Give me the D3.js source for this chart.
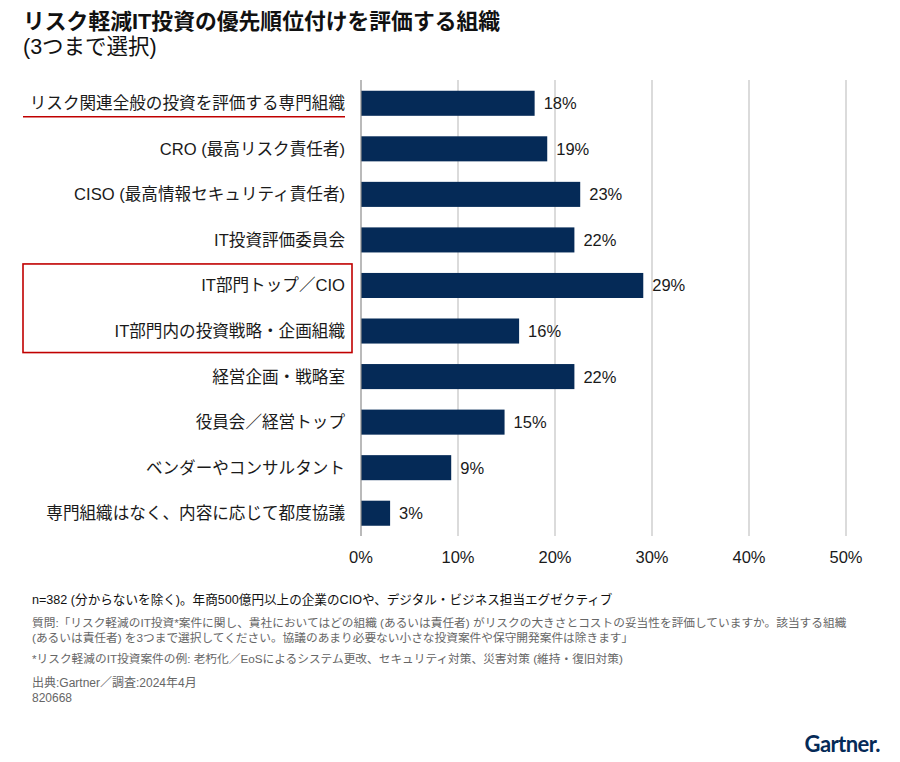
<!DOCTYPE html>
<html>
<head>
<meta charset="utf-8">
<script src="https://cdn.jsdelivr.net/npm/d3@7"></script>
<style>
  body { margin: 0; background: #fff; }
  svg { display: block; font-family: "Liberation Sans", Arial, "Noto Sans CJK JP", sans-serif; }
</style>
</head>
<body>
<div id="viz"></div>
<script>
// ── DATA ────────────────────────────────────────────────────────────────────
const categories = [
  "リスク関連全般の投資を評価する専門組織",
  "CRO (最高リスク責任者)",
  "CISO (最高情報セキュリティ責任者)",
  "IT投資評価委員会",
  "IT部門トップ／CIO",
  "IT部門内の投資戦略・企画組織",
  "経営企画・戦略室",
  "役員会／経営トップ",
  "ベンダーやコンサルタント",
  "専門組織はなく、内容に応じて都度協議"
];
const values = [17.9, 19.2, 22.6, 22.0, 29.1, 16.3, 22.0, 14.8, 9.3, 3.0];
const xTicks = [0, 10, 20, 30, 40, 50];

const titleLines = ["リスク軽減IT投資の優先順位付けを評価する組織", "(3つまで選択)"];
const noteMain = "n=382 (分からないを除く)。年商500億円以上の企業のCIOや、デジタル・ビジネス担当エグゼクティブ";
const noteLines = [
  "質問:「リスク軽減のIT投資*案件に関し、貴社においてはどの組織 (あるいは責任者) がリスクの大きさとコストの妥当性を評価していますか。該当する組織",
  "(あるいは責任者) を3つまで選択してください。協議のあまり必要ない小さな投資案件や保守開発案件は除きます」",
  "*リスク軽減のIT投資案件の例: 老朽化／EoSによるシステム更改、セキュリティ対策、災害対策 (維持・復旧対策)"
];
const sourceLines = ["出典:Gartner／調査:2024年4月", "820668"];

// ── SETTINGS ────────────────────────────────────────────────────────────────
const width = 900, height = 762;
const navy = "#052a57", red = "#c00000";

const svg = d3.select("#viz").append("svg")
    .attr("viewBox", [0, 0, width, height])
    .attr("width", width)
    .attr("height", height);

const x = d3.scaleLinear().domain([0, 50]).range([361, 846]);
const y = d3.scaleBand().domain(categories).range([80.5, 536])
    .paddingInner(0.45).paddingOuter(0.225);

// ── TITLE ───────────────────────────────────────────────────────────────────
svg.append("text")
    .attr("x", 23).attr("y", 29)
    .attr("font-size", 21.8).attr("font-weight", "bold").attr("fill", "#111")
    .text(titleLines[0]);
svg.append("text")
    .attr("x", 23).attr("y", 54)
    .attr("font-size", 21.5).attr("fill", "#111")
    .text(titleLines[1]);

// ── GRID ────────────────────────────────────────────────────────────────────
svg.append("g")
  .selectAll("line")
  .data(xTicks.slice(1))
  .join("line")
    .attr("x1", d => x(d)).attr("x2", d => x(d))
    .attr("y1", 80).attr("y2", 536)
    .attr("stroke", "#cfcfcf")
    .attr("stroke-width", 1.5);

// ── BARS ────────────────────────────────────────────────────────────────────
svg.append("g")
  .selectAll("rect")
  .data(values)
  .join("rect")
    .attr("x", x(0))
    .attr("y", (d, i) => y(categories[i]))
    .attr("width", d => x(d) - x(0))
    .attr("height", y.bandwidth())
    .attr("fill", navy);

svg.append("line")
    .attr("x1", x(0)).attr("x2", x(0))
    .attr("y1", 80).attr("y2", 536)
    .attr("stroke", "#8c8c8c")
    .attr("stroke-width", 1.2);

// value labels
svg.append("g")
  .selectAll("text")
  .data(values)
  .join("text")
    .attr("x", d => x(d) + 9)
    .attr("y", (d, i) => y(categories[i]) + y.bandwidth() / 2)
    .attr("dy", "0.36em")
    .attr("font-size", 16.5)
    .attr("fill", "#1a1a1a")
    .text(d => `${Math.round(d)}%`);

// category labels
svg.append("g")
  .selectAll("text")
  .data(categories)
  .join("text")
    .attr("x", 345)
    .attr("y", d => y(d) + y.bandwidth() / 2)
    .attr("dy", "0.36em")
    .attr("text-anchor", "end")
    .attr("font-size", 16.6)
    .attr("fill", "#1a1a1a")
    .text(d => d);

// x axis tick labels
svg.append("g")
  .selectAll("text")
  .data(xTicks)
  .join("text")
    .attr("x", d => x(d))
    .attr("y", 563)
    .attr("text-anchor", "middle")
    .attr("font-size", 16.5)
    .attr("fill", "#1a1a1a")
    .text(d => `${d}%`);

// ── HIGHLIGHTS ──────────────────────────────────────────────────────────────
const y0 = y(categories[0]) + y.bandwidth() + 1;
svg.append("line")
    .attr("x1", 23).attr("x2", 345)
    .attr("y1", y0).attr("y2", y0)
    .attr("stroke", red).attr("stroke-width", 1.6);

const boxTop = y(categories[4]) - 9;
const boxBottom = y(categories[5]) + y.bandwidth() + 9;
svg.append("rect")
    .attr("x", 23).attr("y", boxTop)
    .attr("width", 329).attr("height", boxBottom - boxTop)
    .attr("fill", "none")
    .attr("stroke", red).attr("stroke-width", 1.6);

// ── FOOTNOTES ───────────────────────────────────────────────────────────────
svg.append("text")
    .attr("x", 32).attr("y", 604)
    .attr("font-size", 12.6).attr("fill", "#111")
    .text(noteMain);

svg.append("g")
  .selectAll("text")
  .data(noteLines)
  .join("text")
    .attr("x", 32)
    .attr("y", (d, i) => [627, 642, 663][i])
    .attr("font-size", 11.7)
    .attr("fill", "#666")
    .text(d => d);

svg.append("g")
  .selectAll("text")
  .data(sourceLines)
  .join("text")
    .attr("x", 32)
    .attr("y", (d, i) => 687 + i * 15)
    .attr("font-size", 12)
    .attr("fill", "#666")
    .text(d => d);

// ── LOGO ────────────────────────────────────────────────────────────────────
svg.append("text")
    .attr("x", 880).attr("y", 752)
    .attr("text-anchor", "end")
    .attr("font-family", "Lato, \"Liberation Sans\", sans-serif")
    .attr("font-size", 22).attr("font-weight", "bold")
    .attr("letter-spacing", -0.6)
    .attr("fill", navy)
    .text("Gartner.");
</script>
</body>
</html>
